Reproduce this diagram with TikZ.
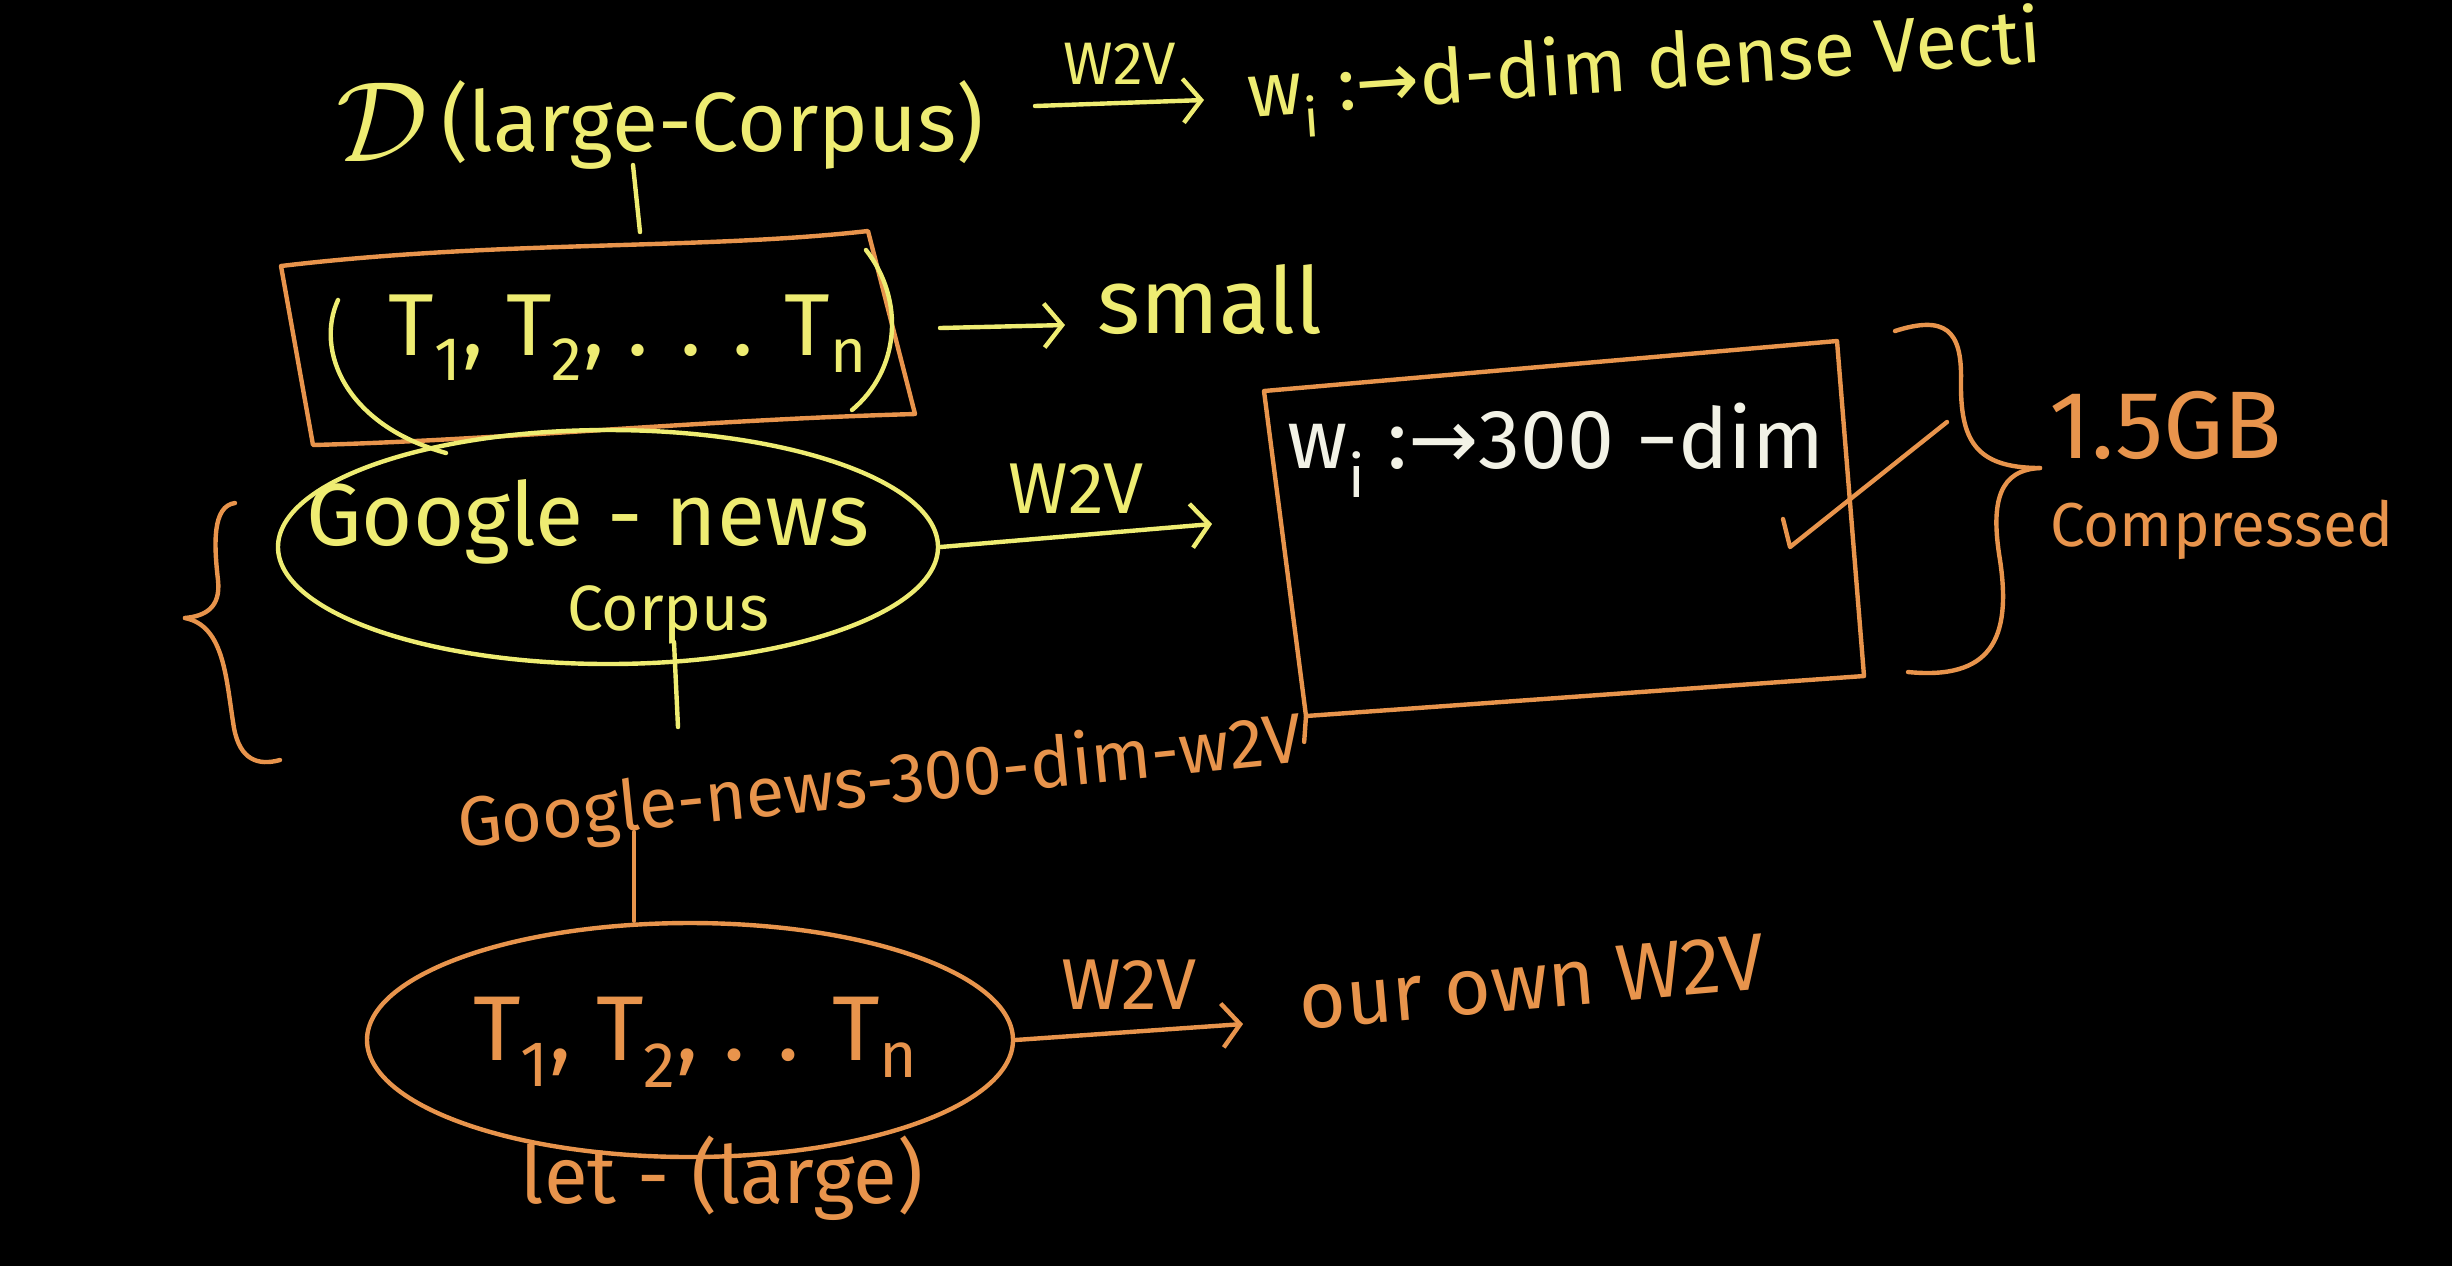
\documentclass[tikz,border=0pt]{standalone}
\usepackage{fontspec}
\setmainfont{Fira Sans}
\newfontfamily\dvsans{DejaVu Sans}
\usetikzlibrary{arrows.meta,shapes.geometric,calc}
\definecolor{yel}{HTML}{EEEC72}
\definecolor{org}{HTML}{E8944C}
\definecolor{wht}{HTML}{F2F2E6}
\newcommand{\myarr}{{\dvsans →}}
\begin{document}
\begin{tikzpicture}[x=0.5pt,y=-0.5pt, line width=2.2pt, line cap=round, line join=round,
  fsz/.style={font=\fontsize{#1}{#1}\selectfont},
  ytxt/.style={text=yel, inner sep=0pt},
  otxt/.style={text=org, inner sep=0pt},
  wtxt/.style={text=wht, inner sep=0pt},
  harrow/.style={-{Straight Barb[length=9pt,width=22pt,line width=2.2pt]}},
  lbl/.style={inner sep=0pt, fsz=30}]
\fill[black] (0,0) rectangle (2452,1266);
\useasboundingbox (0,0) rectangle (2452,1266);

% ---------- top row ----------
\node[ytxt, fsz=42] (D) at (660,125) {\raisebox{-0.12em}{\scalebox{2.3}{$\mathcal{D}$}}\,(large-Corpus)};
\node[ytxt, fsz=38, rotate=4] (wvec) at (1645,72) {w\textsubscript{i} :\myarr d-dim dense Vecti};
\coordinate (a1s) at (1035,106);
\coordinate (a1e) at (1204,100);
\draw[yel, harrow] (a1s) -- node[above=8pt, lbl, text=yel] (w2va) {W2V} (a1e);
\coordinate (gdesc) at (640,232);
\draw[yel] (633,165) -- (gdesc);

% ---------- small corpus box ----------
\draw[org] (281,266) .. controls (500,240) and (700,250) .. (868,231) -- (915,414)
  .. controls (700,420) and (500,440) .. (313,445) -- cycle;
\node[ytxt, fsz=44] (Ts) at (628,338) {T\textsubscript{1}, T\textsubscript{2}, . . . T\textsubscript{n}};
\draw[yel] (338,300) .. controls (315,350) and (345,425) .. (446,453);
\draw[yel] (866,250) .. controls (905,300) and (900,370) .. (852,410);
\node[ytxt, fsz=46, anchor=west] (small) at (1095,300) {small};
\coordinate (a0e) at (1065,325);
\draw[yel, harrow] (940,328) -- (a0e);

% ---------- google news corpus ----------
\node[draw=yel, ellipse, minimum width=330pt, minimum height=117pt, inner sep=0pt] (ge) at (608,547) {};
\node[ytxt, fsz=44] (gn) at (588,522) {Google - news};
\node[ytxt, fsz=32] (gc) at (668,615) {Corpus};
\draw[yel] (674,642) -- (678,727);
\coordinate (a2e) at (1212,524);
\draw[yel, harrow] (ge.east) -- node[above=10pt, lbl, text=yel, fsz=36] (w2vb) {W2V} (a2e);

% ---------- vector box ----------
\draw[org] (1264,391) -- (1837,341) -- (1864,676) -- (1306,716) -- cycle;
\node[wtxt, fsz=42] (w300) at (1556,450) {w\textsubscript{i} :\myarr 300 −dim};
\draw[org] (1783,519) -- (1790,547) -- (1947,422);

% right brace
\draw[org] (1895,331) .. controls (1945,315) and (1962,330) .. (1961,380)
  .. controls (1960,440) and (1975,468) .. (2040,468);
\draw[org] (2040,468) .. controls (2000,470) and (1990,500) .. (2000,560)
  .. controls (2012,640) and (1990,680) .. (1908,672);
\node[otxt, fsz=48] (gb) at (2166,425) {1.5GB};
\node[otxt, fsz=31] (comp) at (2222,530) {Compressed};

% left brace
\draw[org] (235,503) .. controls (212,506) and (214,545) .. (218,580)
  .. controls (221,608) and (205,616) .. (185,618);
\draw[org] (185,618) .. controls (225,626) and (226,680) .. (234,728)
  .. controls (240,760) and (258,766) .. (280,760);

% ---------- google news w2v label ----------
\node[otxt, fsz=35, rotate=5.8] (gnw) at (880,785) {Google-news-300-dim-w2V};
\draw[org] (gnw.east) -- (1306,716);
\coordinate (gstem) at (634,832);

% ---------- own corpus ----------
\node[draw=org, ellipse, minimum width=323pt, minimum height=117pt, inner sep=0pt] (oe) at (690,1040) {};
\draw[org] (gstem) -- (oe.north -| gstem);
\node[otxt, fsz=46] (To) at (696,1042) {T\textsubscript{1}, T\textsubscript{2}, . . T\textsubscript{n}};
\node[otxt, fsz=40] (let) at (722,1178) {let - (large)};
\coordinate (a3e) at (1243,1024);
\draw[org, harrow] (oe.east) -- node[above=10pt, lbl, text=org, fsz=36] (w2vc) {W2V} (a3e);
\node[otxt, fsz=40, rotate=5] (own) at (1532,982) {our own W2V};
\end{tikzpicture}
\end{document}
